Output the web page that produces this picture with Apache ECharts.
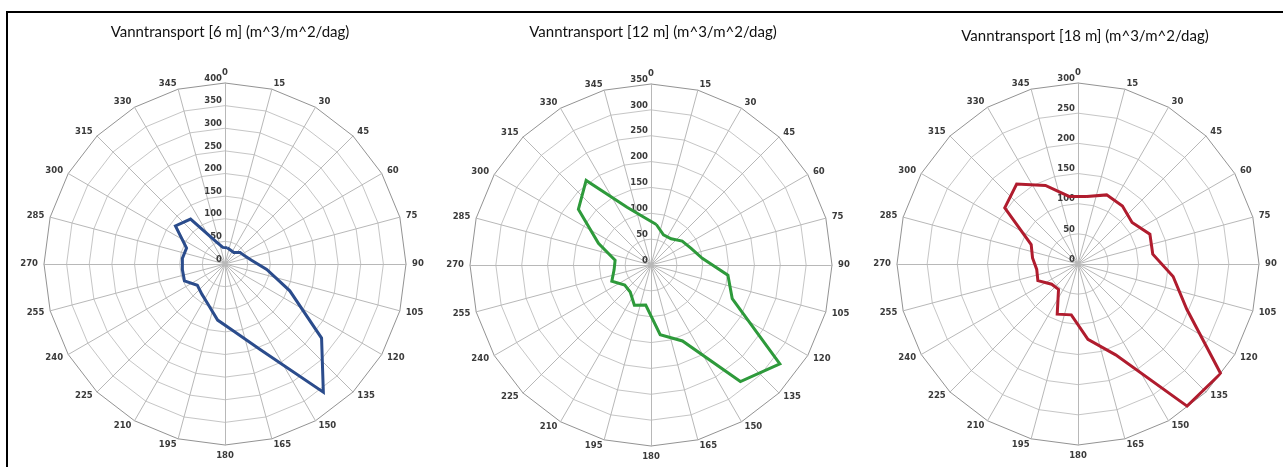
<!DOCTYPE html>
<html>
<head>
<meta charset="utf-8">
<script src="https://cdn.jsdelivr.net/npm/echarts@6/dist/echarts.min.js"></script>
<style>
  html, body { margin: 0; padding: 0; background: #ffffff; }
  #chart { width: 1283px; height: 467px; }
</style>
</head>
<body>
<div id="chart"></div>
<script>
// ---- Data ----
const directionLabels = ['0','15','30','45','60','75','90','105','120','135','150','165',
                         '180','195','210','225','240','255','270','285','300','315','330','345'];
const sectorAngles = [7.5, 22.5, 37.5, 52.5, 67.5, 82.5, 97.5, 112.5, 127.5, 142.5, 157.5, 172.5,
                      187.5, 202.5, 217.5, 232.5, 247.5, 262.5, 277.5, 292.5, 307.5, 322.5, 337.5, 352.5];
const transport6m  = [36, 33, 32, 42, 47, 60, 93, 155, 269, 357, 205, 150,
                      125, 97, 84, 77, 97, 95, 95, 92, 138, 125, 55, 37];
const transport12m = [79, 63, 64, 76, 84, 100, 150, 170, 314, 284, 159, 136,
                      78, 84, 66, 64, 82, 72, 70, 110, 177, 206, 121, 92];
const transport18m = [113, 124, 121, 113, 129, 125, 159, 195, 298, 297, 163, 126,
                      85, 90, 53, 55, 72, 69, 76, 84, 153, 167, 141, 113];
const titles = ['Vanntransport [6 m] (m^3/m^2/dag)',
                'Vanntransport [12 m] (m^3/m^2/dag)',
                'Vanntransport [18 m] (m^3/m^2/dag)'];
const radialMax = [400, 350, 300];
const radialStep = 50;

// ---- Layout / style ----
const panels = [
  { cx: 225, cy: 264, r: 181, titleX: 230, titleY: 25, color: '#2B4C8C', values: transport6m },
  { cx: 651, cy: 265, r: 181, titleX: 653, titleY: 25, color: '#2E9A3B', values: transport12m },
  { cx: 1078, cy: 264, r: 181, titleX: 1085, titleY: 29, color: '#B01C2E', values: transport18m }
];
const labelFont = { fontFamily: 'DejaVu Sans', fontSize: 8.5, fontWeight: 'bold', color: '#3a3a3a' };

// radar indicators go counter-clockwise, so list them in reverse order after 0
const indicatorOrder = [directionLabels[0]].concat(directionLabels.slice(1).reverse());

const option = {
  animation: false,
  backgroundColor: '#ffffff',
  title: [], radar: [], polar: [], angleAxis: [], radiusAxis: [], series: [],
  graphic: [
    { type: 'line', shape: { x1: 7, y1: 12, x2: 1283, y2: 12 }, style: { stroke: '#000', lineWidth: 2 } },
    { type: 'line', shape: { x1: 7, y1: 11, x2: 7, y2: 467 }, style: { stroke: '#000', lineWidth: 2 } }
  ]
};

panels.forEach((p, i) => {
  const max = radialMax[i];
  const splits = max / radialStep;
  option.title.push({
    text: titles[i], left: p.titleX, top: p.titleY, textAlign: 'center', padding: 0,
    textStyle: { fontFamily: 'Lato', fontSize: 15, fontWeight: 'normal', color: '#111' }
  });
  const ringColors = [];
  for (let k = 0; k < splits; k++) ringColors.push('#c6c6c6');
  ringColors.push('#939393');
  option.radar.push({
    center: [p.cx, p.cy], radius: p.r, startAngle: 90, shape: 'polygon', splitNumber: splits,
    indicator: indicatorOrder.map(n => ({ name: n, min: 0, max: max })),
    nameGap: 6,
    axisName: Object.assign({}, labelFont),
    axisLine: { lineStyle: { color: '#b8b8b8', width: 1 } },
    splitLine: { lineStyle: { color: ringColors, width: 1 } },
    splitArea: { show: false },
    axisTick: { show: false }, axisLabel: { show: false }
  });
  option.polar.push({ center: [p.cx, p.cy], radius: p.r });
  option.angleAxis.push({
    polarIndex: i, type: 'value', min: 0, max: 360, startAngle: 90, clockwise: true, show: false
  });
  option.radiusAxis.push({
    polarIndex: i, type: 'value', min: 0, max: max, interval: radialStep,
    axisLine: { show: false }, axisTick: { show: false }, splitLine: { show: false },
    axisLabel: Object.assign({ show: true, margin: 3, align: 'right', verticalAlign: 'bottom' }, labelFont)
  });
  const pts = sectorAngles.map((a, k) => [p.values[k], a]);
  pts.push(pts[0]);
  option.series.push({
    type: 'line', coordinateSystem: 'polar', polarIndex: i, data: pts,
    symbol: 'none', smooth: false, z: 5,
    lineStyle: { color: p.color, width: 3, join: 'miter' }
  });
});

const chart = echarts.init(document.getElementById('chart'), null, { renderer: 'canvas' });
chart.setOption(option);
</script>
</body>
</html>
